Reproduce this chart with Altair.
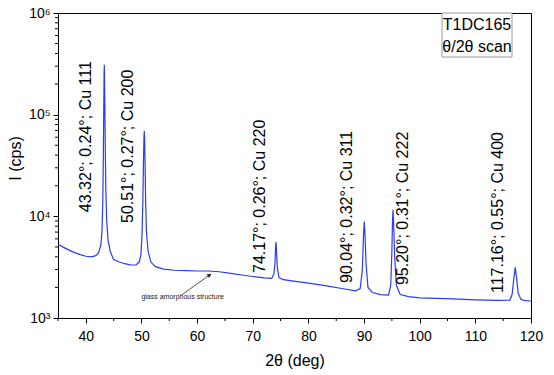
import altair as alt
import pandas as pd

# ---- spectrum ----
two_theta = [35.0, 36.0, 37.0, 38.0, 39.0, 40.0, 41.0, 41.8, 42.3, 42.7, 42.9, 43.05, 43.15, 43.22,
             43.28, 43.32, 43.36, 43.42, 43.5, 43.6, 43.75, 44.0, 44.4, 45.0, 46.0, 47.0, 48.0, 49.0,
             49.6, 49.9, 50.1, 50.25, 50.38, 50.46, 50.51, 50.56, 50.64, 50.75, 50.9, 51.2, 51.7,
             52.5, 54.0, 56.0, 58.0, 60.0, 62.0, 64.0, 66.0, 68.0, 70.0, 72.0, 73.4, 73.8, 74.0,
             74.1, 74.17, 74.25, 74.4, 74.7, 75.5, 77.0, 80.0, 83.0, 86.0, 88.5, 89.3, 89.7, 89.9,
             90.04, 90.15, 90.35, 90.7, 91.5, 93.0, 94.4, 94.8, 95.0, 95.1, 95.2, 95.3, 95.5, 95.8,
             96.5, 98.0, 100.0, 103.0, 106.0, 110.0, 114.0, 116.2, 116.6, 116.9, 117.16, 117.4,
             117.7, 118.2, 119.0, 120.0]
intensity = [5300, 4950, 4650, 4400, 4200, 4050, 4000, 4100, 4400, 5200, 7000, 14000, 40000, 110000,
             240000, 310000, 250000, 120000, 45000, 18000, 9000, 5800, 4500, 3750, 3550, 3420, 3330, 3320,
             3550, 4200, 6500, 14000, 40000, 62000, 69000, 60000, 35000, 14000, 7000, 4500, 3550,
             3200, 3030, 2950, 2920, 2900, 2900, 2850, 2750, 2650, 2560, 2480, 2450, 2700, 3500,
             5000, 5600, 4800, 3200, 2500, 2380, 2320, 2200, 2080, 1950, 1850, 1950, 3000, 6500,
             8900, 7000, 3500, 2000, 1780, 1700, 1680, 2100, 4500, 8500, 11600, 9000, 4000, 2100,
             1700, 1620, 1580, 1560, 1540, 1510, 1490, 1500, 1700, 2400, 3150, 2500,
             1750, 1520, 1480, 1470]

# ---- peak annotations ----
peak_labels = ["43.32°; 0.24°; Cu 111", "50.51°; 0.27°; Cu 200", "74.17°; 0.26°; Cu 220",
               "90.04°; 0.32°; Cu 311", "95.20°; 0.31°; Cu 222", "117.16°; 0.55°; Cu 400"]
label_x = [40.1, 47.5, 71.3, 86.9, 97.0, 114.0]
label_y = [11000, 8600, 2770, 2210, 2110, 1760]

# ---- arrow annotation ----
arrow_x = [57.2, 62.25]
arrow_y = [1683, 2650]
note_text = ["glass amorphous structure"]
note_x = [57.4]
note_y = [1611]

x_major = list(range(40, 121, 10))
x_minor = list(range(35, 120, 10))
y_major = [1000, 10000, 100000, 1000000]
y_minor = [m * 10 ** e for e in (3, 4, 5) for m in range(2, 10)]

FONT = "Liberation Sans"
LINE = "#2a3cf0"

df = pd.DataFrame({"tt": two_theta, "I": intensity})
labels_df = pd.DataFrame({"x": label_x, "y": label_y, "t": peak_labels})
arrow_df = pd.DataFrame({"x": [arrow_x[0]], "y": [arrow_y[0]], "x2": [arrow_x[1]], "y2": [arrow_y[1]]})
head_df = pd.DataFrame({"x": [arrow_x[1]], "y": [arrow_y[1]]})
note_df = pd.DataFrame({"x": note_x, "y": note_y, "t": note_text})
xminor_df = pd.DataFrame({"v": x_minor})
yminor_df = pd.DataFrame({"v": y_minor})

xs = alt.Scale(domain=[35, 120], nice=False, zero=False)
ys = alt.Scale(type="log", domain=[1000, 1000000], nice=False)

x_axis = alt.Axis(
    values=x_major, tickSize=5,
    labelFontSize=14, titleFontSize=16, labelPadding=6, titlePadding=9,
    labelFlush=False, labelOverlap=False,
)
y_axis = alt.Axis(
    values=y_major, tickSize=5,
    labelExpr="datum.value == 1000 ? '10³' : datum.value == 10000 ? '10⁴' : datum.value == 100000 ? '10⁵' : '10⁶'",
    labelFontSize=14, titleFontSize=16, labelPadding=3,
    titleX=-43, titleY=145, titleAngle=270, titleAlign="center", titleBaseline="middle",
    labelFlush=False, labelOverlap=False,
)

line = alt.Chart(df).mark_line(color=LINE, strokeWidth=1.2, clip=True).encode(
    x=alt.X("tt:Q", scale=xs, axis=x_axis, title="2θ (deg)"),
    y=alt.Y("I:Q", scale=ys, axis=y_axis, title="I (cps)"),
)

xminor = alt.Chart(xminor_df).mark_rule(color="black", strokeWidth=1).encode(
    x=alt.X("v:Q", scale=xs), y=alt.value(305), y2=alt.value(308)
)
yminor = alt.Chart(yminor_df).mark_rule(color="black", strokeWidth=1).encode(
    y=alt.Y("v:Q", scale=ys), x=alt.value(-3), x2=alt.value(0)
)

texts = alt.Chart(labels_df).mark_text(
    angle=270, align="left", baseline="middle", fontSize=16, font=FONT, color="black"
).encode(
    x=alt.X("x:Q", scale=xs), y=alt.Y("y:Q", scale=ys), text="t:N"
)

arrow = alt.Chart(arrow_df).mark_rule(color="#222222", strokeWidth=0.8).encode(
    x=alt.X("x:Q", scale=xs), y=alt.Y("y:Q", scale=ys), x2="x2:Q", y2="y2:Q"
)
head = alt.Chart(head_df).mark_point(
    shape="triangle-up", filled=True, color="#222222", size=22, angle=54, opacity=1
).encode(x=alt.X("x:Q", scale=xs), y=alt.Y("y:Q", scale=ys))

note = alt.Chart(note_df).mark_text(fontSize=7, font=FONT, color="#222222").encode(
    x=alt.X("x:Q", scale=xs), y=alt.Y("y:Q", scale=ys), text="t:N"
)

legend_box = alt.Chart(pd.DataFrame({"a": [0]})).mark_rect(
    fill="white", stroke="#9a9a9a", strokeWidth=1
).encode(x=alt.value(384), x2=alt.value(454), y=alt.value(0), y2=alt.value(44))
legend_t1 = alt.Chart(pd.DataFrame({"t": ["T1DC165"]})).mark_text(
    fontSize=16, font=FONT, color="black", align="center", baseline="middle"
).encode(x=alt.value(419), y=alt.value(12), text="t:N")
legend_t2 = alt.Chart(pd.DataFrame({"t": ["θ/2θ scan"]})).mark_text(
    fontSize=16, font=FONT, color="black", align="center", baseline="middle"
).encode(x=alt.value(419), y=alt.value(34), text="t:N")

chart = alt.layer(line, xminor, yminor, texts, arrow, head, note, legend_box, legend_t1, legend_t2).properties(
    width=473, height=305,
    padding={"left": 58, "top": 13, "right": 23, "bottom": 57},
    autosize=alt.AutoSizeParams(type="none"),
    background="white",
).configure_axis(
    labelFont=FONT, titleFont=FONT, labelColor="black", titleColor="black",
    domainColor="black", tickColor="black", grid=False, titleFontWeight="normal",
    domainWidth=1, tickWidth=1,
).configure_view(stroke="black", strokeWidth=1)

chart.save("out.html", embed_options={"renderer": "svg", "actions": False})
